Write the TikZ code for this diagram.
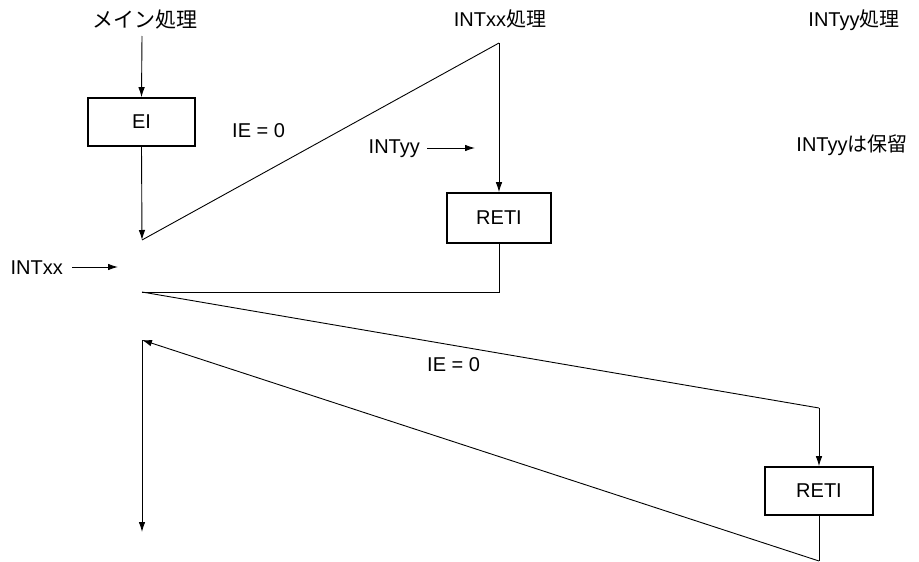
\documentclass[tikz,border=0pt]{standalone}
\usepackage{fontspec}
\setmainfont{Liberation Sans}
\newfontfamily\cjk{Noto Sans CJK JP}
\usetikzlibrary{arrows.meta}
\begin{document}
\begin{tikzpicture}[x=1pt,y=-1pt,
  box/.style={draw,line width=1.6pt,inner sep=0pt,font=\fontsize{20}{24}\selectfont},
  lbl/.style={inner sep=0pt,font=\fontsize{20}{24}\selectfont},
  line/.style={line width=0.9pt},
  arr/.style={line width=0.9pt,-{Latex[length=10pt,width=6.5pt]}}]
\useasboundingbox (0,0) rectangle (919,562);
% texts
\node[lbl] (tmain) at (145,20) {{\cjk\fontsize{21}{24}\selectfont メイン処理}};
\node[lbl] (txx) at (500,19) {INTxx{\cjk 処理}};
\node[lbl] (tyy) at (854,20) {INTyy{\cjk 処理}};
\node[lbl] (thold) at (852,145) {INTyy{\cjk は保留}};
\node[lbl,anchor=west] (ie1) at (232,131) {IE = 0};
\node[lbl,anchor=west] (ie2) at (427,365) {IE = 0};
\node[lbl,anchor=east] (lyy) at (420,149) {INTyy};
\node[lbl,anchor=east] (lxx) at (63,268) {INTxx};
\coordinate (ayy) at (475,148);
\coordinate (axx) at (118,267);
\draw[arr] (lyy.east) ++(7,-1) -- (ayy);
\draw[arr] (lxx.east) ++(9,-1) -- (axx);
% boxes
\node[box,minimum width=107pt,minimum height=48pt] (ei) at (141.5,122) {EI};
\node[box,minimum width=104pt,minimum height=50pt] (reti1) at (499,218) {RETI};
\node[box,minimum width=108pt,minimum height=48pt] (reti2) at (819,491) {RETI};
% coordinates
\coordinate (c1) at (142,240);
\coordinate (c2) at (499,43);
\coordinate (c3) at (499,292);
\coordinate (c4) at (142,292);
\coordinate (c5) at (819,408);
\coordinate (c6) at (819,561);
\coordinate (c7) at (142,340);
\coordinate (c8) at (142,532);
% connectors
\draw[arr] (142,36) -- (ei.north);
\draw[arr] (ei.south) -- (c1);
\draw[line] (c1) -- (c2);
\draw[arr] (c2) -- (reti1.north);
\draw[line] (reti1.south) -- (c3) -- (c4);
\draw[line] (c4) -- (c5);
\draw[arr] (c5) -- (reti2.north);
\draw[line] (reti2.south) -- (c6);
\draw[arr] (c6) -- (c7);
\draw[arr] (c7) -- (c8);
\end{tikzpicture}
\end{document}
